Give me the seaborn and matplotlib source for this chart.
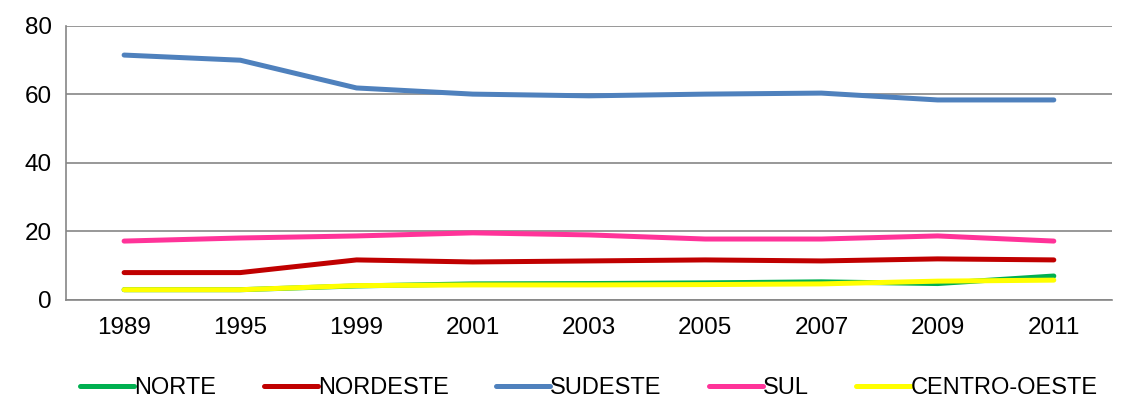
import pandas as pd
import matplotlib
matplotlib.use("Agg")
import matplotlib.pyplot as plt
import seaborn as sns
from matplotlib.ticker import FixedLocator, NullFormatter

# dados
anos = ["1989", "1995", "1999", "2001", "2003", "2005", "2007", "2009", "2011"]
norte = [3.0, 3.0, 4.1, 4.7, 4.8, 5.0, 5.3, 4.8, 7.0]
nordeste = [8.0, 8.0, 11.7, 11.1, 11.4, 11.7, 11.4, 12.0, 11.7]
sudeste = [71.5, 70.0, 61.9, 60.1, 59.6, 60.1, 60.4, 58.4, 58.4]
sul = [17.2, 18.1, 18.7, 19.6, 19.0, 17.8, 17.8, 18.7, 17.2]
centro_oeste = [3.0, 3.0, 4.2, 4.4, 4.4, 4.5, 4.7, 5.5, 5.8]

regioes = ["NORTE", "NORDESTE", "SUDESTE", "SUL", "CENTRO-OESTE"]
cores = ["#00B050", "#C00000", "#4F81BD", "#FF3399", "#FFFF00"]

linhas = []
for nome, vals in zip(regioes, [norte, nordeste, sudeste, sul, centro_oeste]):
    for a, v in zip(anos, vals):
        linhas.append({"ano": a, "valor": v, "regiao": nome})
df = pd.DataFrame(linhas)

sns.set_style("white")
plt.rcParams["font.family"] = ["Liberation Sans", "DejaVu Sans"]
plt.rcParams["text.color"] = "black"
plt.rcParams["xtick.color"] = "black"
plt.rcParams["ytick.color"] = "black"

fig = plt.figure(figsize=(11.3, 4.03), dpi=100)
ax = fig.add_axes([0.0584, 0.2556, 0.9256, 0.68])

sns.lineplot(data=df, x="ano", y="valor", hue="regiao", hue_order=regioes,
             palette=cores, linewidth=3.6, ax=ax, sort=False,
             solid_capstyle="round")

ax.set_xlim(-0.5, len(anos) - 0.5)
ax.set_ylim(0, 80)
ax.set_yticks([0, 20, 40, 60, 80])
ax.yaxis.grid(True, color="#868686", linewidth=1.2)
ax.set_axisbelow(True)
ax.set_xlabel("")
ax.set_ylabel("")

# ticks nos limites das categorias, rotulos no centro
ax.xaxis.set_major_locator(FixedLocator([i - 0.5 for i in range(len(anos) + 1)]))
ax.xaxis.set_major_formatter(NullFormatter())
ax.xaxis.set_minor_locator(FixedLocator(range(len(anos))))
ax.set_xticklabels(anos, minor=True)
ax.tick_params(axis="x", which="major", length=6, color="#868686", width=1.2, direction="out")
ax.tick_params(axis="x", which="minor", length=0, labelsize=17.5, pad=12, labelcolor="black")
ax.tick_params(axis="y", length=5, color="#868686", width=1.2, labelsize=17.5, pad=5,
               direction="out", labelcolor="black")

for s in ["top", "right"]:
    ax.spines[s].set_visible(False)
for s in ["left", "bottom"]:
    ax.spines[s].set_color("#868686")
    ax.spines[s].set_linewidth(1.2)

leg = ax.legend(loc="upper center", bbox_to_anchor=(0.5, -0.205), ncol=5, frameon=False,
                fontsize=17, handlelength=2.3, handletextpad=0.0, columnspacing=2.0)
for h in leg.get_lines():
    h.set_linewidth(3.6)

fig.savefig("out.png", dpi=100)
